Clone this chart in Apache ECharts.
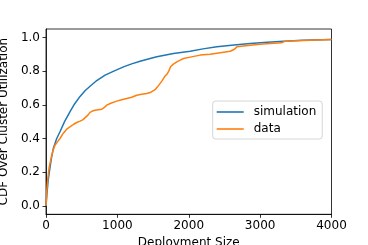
<!DOCTYPE html>
<html><head><meta charset="utf-8">
<script src="https://cdn.jsdelivr.net/npm/echarts@6/dist/echarts.min.js"></script>
<style>html,body{margin:0;padding:0;background:#fff}#c{width:368px;height:245px}</style>
</head><body><div id="c"></div>
<script>
var seriesNames = ['simulation', 'data'];
var xTicks = [0, 1000, 2000, 3000, 4000];
var yTicks = [0, 0.2, 0.4, 0.6, 0.8, 1.0];
var simulation = [[0,0],[15,0.08],[30,0.15],[50,0.21],[75,0.28],[102,0.34],[150,0.40],[196,0.44],[260,0.50],[337,0.56],[400,0.605],[477,0.65],[550,0.685],[617,0.71],[700,0.74],[828,0.776],[950,0.80],[1085,0.825],[1200,0.843],[1318,0.859],[1459,0.875],[1552,0.885],[1786,0.905],[2020,0.918],[2200,0.932],[2394,0.944],[2600,0.954],[2862,0.964],[3100,0.972],[3329,0.978],[3600,0.983],[4000,0.988]];
var data = [[0,0],[10,0.08],[20,0.14],[33,0.19],[45,0.23],[60,0.26],[80,0.30],[100,0.33],[126,0.36],[160,0.38],[196,0.40],[240,0.43],[290,0.455],[340,0.47],[383,0.483],[430,0.495],[477,0.503],[520,0.512],[547,0.523],[590,0.54],[617,0.555],[650,0.563],[687,0.568],[781,0.574],[820,0.585],[851,0.598],[900,0.608],[991,0.622],[1060,0.63],[1132,0.638],[1200,0.645],[1272,0.657],[1340,0.662],[1412,0.667],[1470,0.675],[1529,0.69],[1560,0.705],[1599,0.727],[1630,0.745],[1660,0.766],[1700,0.785],[1720,0.80],[1745,0.826],[1780,0.84],[1833,0.855],[1880,0.865],[1926,0.875],[2020,0.883],[2160,0.895],[2300,0.90],[2441,0.909],[2581,0.918],[2640,0.93],[2675,0.944],[2862,0.954],[3000,0.96],[3142,0.964],[3300,0.968],[3352,0.978],[3600,0.982],[4000,0.988]];

var font = 'DejaVu Sans';
var chart = echarts.init(document.getElementById('c'), null, {renderer:'canvas'});
chart.setOption({
  animation: false,
  grid: {left: 46, right: 36.5, top: 29, bottom: 30.7, show: true, borderColor: '#000', borderWidth: 0.8, backgroundColor: '#fff', containLabel: false, outerBoundsMode: 'none'},
  legend: {
    orient: 'vertical', left: 212.7, top: 101,
    data: seriesNames,
    icon: 'rect', itemWidth: 27, itemHeight: 1.6, itemGap: 5,
    padding: [5, 6, 4, 4],
    borderColor: '#cccccc', borderWidth: 0.8, borderRadius: 3,
    backgroundColor: 'rgba(255,255,255,0.8)',
    textStyle: {fontFamily: font, fontSize: 12, color: '#000', padding: [0,0,0,5]}
  },
  xAxis: {
    type: 'value', min: 0, max: 4000, interval: 1000,
    name: 'Deployment Size', nameLocation: 'middle', nameGap: 19,
    nameTextStyle: {fontFamily: font, fontSize: 12, color: '#000'},
    axisLine: {show: true, onZero: false, lineStyle: {color: '#000', width: 0.8}},
    axisTick: {show: true, length: 3.5, lineStyle: {color: '#000', width: 0.8}, customValues: xTicks},
    axisLabel: {fontFamily: font, fontSize: 12, color: '#000', margin: 6, customValues: xTicks,
      formatter: function (v) { return String(Math.round(v)); }},
    splitLine: {show: false}
  },
  yAxis: {
    type: 'value', min: -0.05, max: 1.05,
    name: 'CDF Over Cluster Utilization', nameLocation: 'middle', nameGap: 22,
    nameTextStyle: {fontFamily: font, fontSize: 12, color: '#000'},
    axisLine: {show: true, onZero: false, lineStyle: {color: '#000', width: 0.8}},
    axisTick: {show: true, length: 3.5, lineStyle: {color: '#000', width: 0.8}, customValues: yTicks},
    axisLabel: {fontFamily: font, fontSize: 12, color: '#000', margin: 6, customValues: yTicks,
      formatter: function (v) { return v.toFixed(1); }},
    splitLine: {show: false}
  },
  series: [
    {name: seriesNames[0], type: 'line', data: simulation, showSymbol: false, smooth: false,
     lineStyle: {color: '#1f77b4', width: 1.5}, itemStyle: {color: '#1f77b4'}},
    {name: seriesNames[1], type: 'line', data: data, showSymbol: false,
     lineStyle: {color: '#ff7f0e', width: 1.5}, itemStyle: {color: '#ff7f0e'}}
  ]
});
</script></body></html>
